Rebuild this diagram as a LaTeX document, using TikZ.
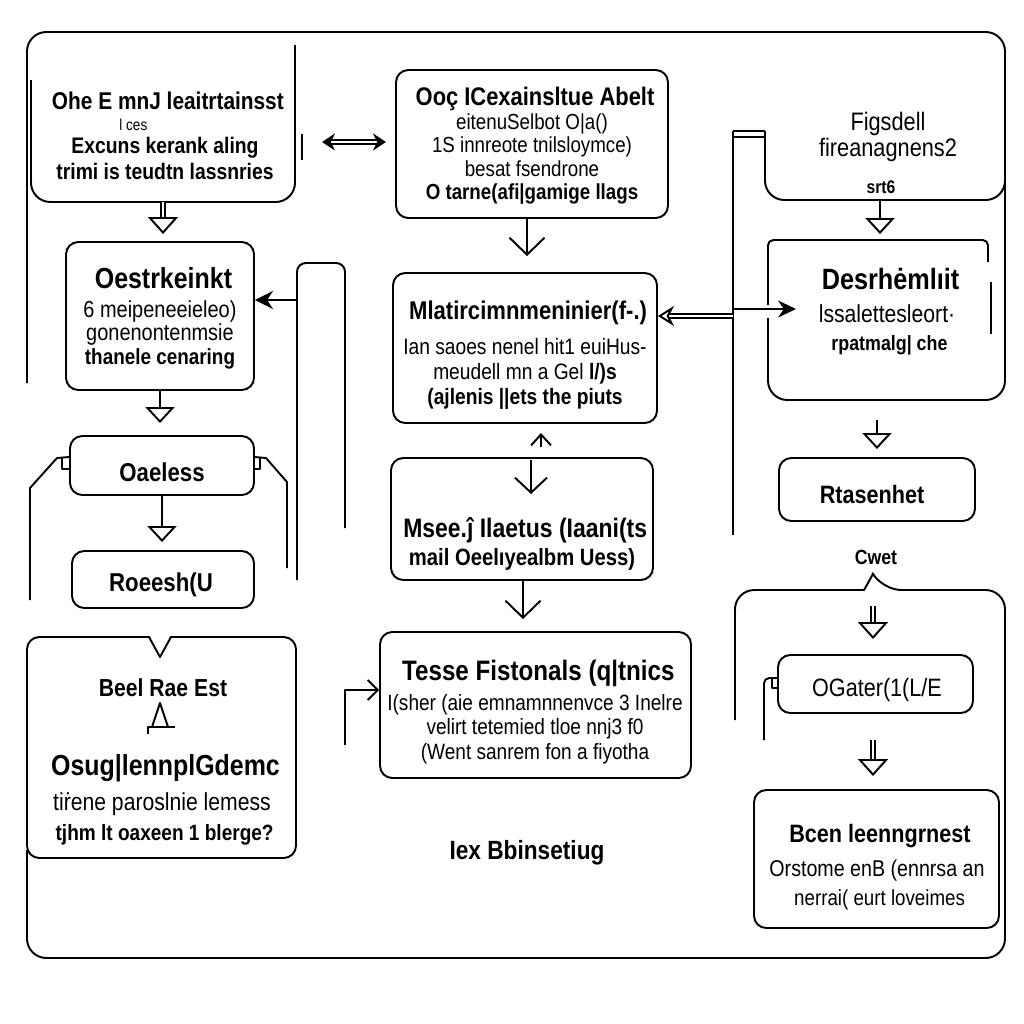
\documentclass[tikz,border=0pt]{standalone}
\usepackage{fontspec}
\newfontfamily\diagfont{Liberation Sans}[FakeStretch=0.86]
\usetikzlibrary{shapes,arrows.meta,positioning,calc}
\newcommand{\fsz}[2]{\fontsize{#1}{#2}\selectfont}

\begin{document}
\begin{tikzpicture}[x=0.2mm,y=-0.2mm,line width=1.1pt,line join=round,
  box/.style={draw,rounded corners=7pt,inner sep=0pt},
  txt/.style={align=center,inner sep=0pt},
  vee/.style={-{Straight Barb[length=3.4mm,width=7mm]}},
  hollow/.style={-{Triangle[open,length=3.2mm,width=5.8mm]}},
  dhollow/.style={double,double distance=1.3pt,-{Triangle[open,length=3.4mm,width=6mm]}},
  stealthy/.style={-{Stealth[length=3.6mm,width=3.6mm]}}]
\useasboundingbox[fill=white] (0,0) rectangle (1024,1024);

% frame, upper part
\draw[rounded corners=11pt] (27,383) -- (27,32) -- (1005,32) -- (1005,400) -- (768,400) -- (768,318);
\draw[rounded corners=3pt] (768,305) -- (768,240) -- (988,240) -- (988,262);
\draw[line width=1.6pt] (991,282) -- (991,334);
\draw[rounded corners=11pt] (765,131) -- (765,200) -- (1005,200) -- (1005,180);
\draw (733,131) -- (765,131);
\draw (733,137) -- (765,137);
\draw (733,131) -- (733,535);

% frame, lower part
\draw[rounded corners=11pt] (27,850) -- (27,958) -- (1005,958) -- (1005,590) -- (882,590)
  [sharp corners] -- (873,574) -- (864,590) [rounded corners=11pt] -- (735,590) -- (735,720);

% top left
\draw[rounded corners=11pt] (295,45) -- (295,202) -- (31,202) -- (31,80);
\node[txt,font=\diagfont\fsz{12.8}{14.6}] (tltext) at (165,136) {\textbf{\fsz{13.8}{14} Ohe E mnJ leaitrtainsst}\\[-3pt]
  {\fsz{9}{9}\hspace*{-4em}l ces}\\[-1pt]
  \textbf{Excuns kerank aling}\\ \textbf{trimi is teudtn lassnries}};
\draw (302,134) -- (302,160);
\coordinate (dl) at (322,142);
\coordinate (dr) at (386,142);
\draw[double,double distance=1.5pt,{Stealth[length=2.6mm,width=3.4mm]}-{Stealth[length=2.6mm,width=3.4mm]}] (dl) -- (dr);

% middle column
\node[box,minimum width=54.4mm,minimum height=29.6mm] (tmbox) at (532,144) {};
\node[txt,font=\diagfont\fsz{12.4}{13.4}] (tmtext) at (532,146) {\textbf{\fsz{14.5}{14} Ooç ICexainsltue Abelt}\\
  eitenuSelbot O|a()\\ 1S innreote tnilsloymce)\\ besat fsendrone\\
  \textbf{O tarne(afi|gamige llags}};
\node[box,minimum width=52.8mm,minimum height=30mm] (mlbox) at (525,348) {};
\node[txt,font=\diagfont\fsz{12.7}{14.2}] (mltext) at (525,355) {\textbf{\fsz{14.6}{14} Mlatircimnmeninier(f-.)}\\[6pt]
  Ian saoes nenel hit1 euiHus-\\ meudell mn a Gel \textbf{l/)s}\\ \textbf{(ajlenis ||ets the piuts}};
\node[box,minimum width=52.4mm,minimum height=24.4mm] (msbox) at (522,519) {};
\node[txt,font=\diagfont\fsz{13.4}{14.8}] (mstext) at (522,544) {\textbf{\fsz{15.2}{15} Msee.ĵ Ilaetus (Iaani(ts}\\[1pt]
  \textbf{mail Oeelıyealbm Uess)}};
\node[box,minimum width=62.2mm,minimum height=29.2mm] (tsbox) at (535.5,705) {};
\node[txt,font=\diagfont\fsz{12.6}{13.9}] (tstext) at (535,712) {\textbf{\fsz{16}{16} Tesse Fistonals (q|tnics}\\[3pt]
  I(sher (aie emnamnnenvce 3 Inelre\\ velirt tetemied tloe nnj3 f0\\ (Went sanrem fon a fiyotha};
\node[txt,font=\diagfont\fsz{15}{15}] (ibtext) at (527,853) {\textbf{Iex Bbinsetiug}};

\draw[vee,shorten >=3.2mm] (tmbox.south -| 527,0) -- (mlbox.north -| 527,0);
\coordinate (msup) at (541,447);
\draw[-{Straight Barb[length=2.2mm,width=4mm]}] (msup) -- ++(0,-14);
\coordinate (msin) at (531,460);
\draw[-{Straight Barb[length=3mm,width=6.4mm]}] (msin) -- (531,494);
\draw[vee,shorten >=2.4mm] (msbox.south -| 523,0) -- (tsbox.north -| 523,0);
\coordinate (tsin) at (345,745);
\draw[-{Straight Barb[length=2mm,width=4mm]}] (tsin) -- (345,690) -- (tsin |- 0,690 -| tsbox.west);

% left column
\node[box,minimum width=37.6mm,minimum height=29.6mm] (oebox) at (160,316) {};
\node[txt,font=\diagfont\fsz{13.2}{13.4}] (oetext) at (160,318) {\textbf{\fsz{16.5}{16} Oestrkeinkt}\\[3pt]
  6 meipeneeieleo)\\ gonenontenmsie\\ \textbf{\fsz{12.5}{13.4}thanele cenaring}};
\node[box,minimum width=36.8mm,minimum height=11.8mm] (oabox) at (162,465.5) {};
\node[txt,font=\diagfont\fsz{14.7}{15}] (oatext) at (162,472) {\textbf{Oaeless}};
\node[box,minimum width=36.4mm,minimum height=11.4mm] (robox) at (163,579.5) {};
\node[txt,font=\diagfont\fsz{14.7}{15}] (rotext) at (161,585) {\textbf{Roeesh(U}};

\coordinate (tlout) at (163,202);
\draw[dhollow,shorten >=1.4mm] (tlout) -- (tlout |- oebox.north);
\draw[hollow,shorten >=0mm] (oebox.south -| 160,0) -- (160,423);
\draw[hollow,shorten >=1.6mm] (oabox.south -| 162,0) -- (robox.north -| 162,0);

\draw[rounded corners=5pt] (297,580) -- (297,263) -- (345,263) -- (345,528);
\coordinate (lb) at (297,300);
\draw[stealthy] (lb) -- (lb -| oebox.east);

\coordinate (oal) at ($(oabox.north west)+(0,22)$);
\coordinate (oar) at ($(oabox.north east)+(0,22)$);
\draw (30,600) -- (30,488) -- (57,458) -- (oal);
\draw ($(oal)+(-7,0)$) -- ($(oal)+(-7,12)$) -- ($(oal)+(0,12)$);
\draw (oar) -- (266,458) -- (287,482) -- (287,568);
\draw ($(oar)+(5,0)$) -- ($(oar)+(5,12)$) -- ($(oar)+(0,12)$);

\node[box,minimum width=53.8mm,minimum height=44.2mm] (bebox) at (161.5,747.5) {};
\fill[white] (149,634) -- (171,634) -- (160,656) -- cycle;
\draw (149,637) -- (160,657) -- (171,637);
\node[txt,font=\diagfont\fsz{14}{14}] (betop) at (163,688) {\textbf{Beel Rae Est}};
\draw (152,727) -- (160,703) -- (168,727);
\draw (148,734) -- (148,727) -- (175,727);
\node[txt,font=\diagfont\fsz{14}{17}] (betext) at (162,800) {\textbf{\fsz{16.5}{16} Osug|lennplGdemc}\\[3pt]
  tiṙene paroslnie lemess\\ \textbf{\fsz{12.6}{17} tjhm lt oaxeen 1 blerge?}};

% right column
\node[txt,font=\diagfont\fsz{14.4}{14.4}] (fgtext) at (888,137) {Figsdell\\ fireanagnens2};
\node[txt,font=\diagfont\fsz{10.4}{10}] (srtext) at (881,187) {\textbf{srt6}};
\node[minimum width=47mm,minimum height=28.8mm] (debox) at (886.5,312) {};
\node[txt,font=\diagfont\fsz{14}{15.9}] (detext) at (887,312) {\textbf{\fsz{16.7}{16} Desrhėmlıit}\\[3pt]
  lssaletteslеort·\\ \textbf{\fsz{11.8}{15.9} rpatmalg| che}};
\node[box,minimum width=39.2mm,minimum height=12.6mm] (rsbox) at (877,489.5) {};
\node[txt,font=\diagfont\fsz{14.3}{14}] (rstext) at (872,495) {\textbf{Rtasenhet}};
\node[txt,font=\diagfont\fsz{11.7}{12}] (cwtext) at (876,557) {\textbf{Cwet}};
\node[box,minimum width=39mm,minimum height=11.6mm] (ogbox) at (875.5,684) {};
\node[txt,font=\diagfont\fsz{14.3}{14}] (ogtext) at (877,690) {OGater(1(L/E};
\node[box,minimum width=49mm,minimum height=27.6mm] (bcbox) at (876.5,859) {};
\node[txt,font=\diagfont\fsz{13}{16.5}] (bctext) at (877,867) {\textbf{\fsz{14.3}{14} Bcen leenngrnest}\\[3pt]
  Orstome enB (ennrsa an\\ \fsz{12.4}{16.5} nerrai( eurt loveimes};

\coordinate (fgout) at (880,200);
\draw[hollow,shorten >=1mm] (fgout) -- (fgout |- debox.north);
\coordinate (mlin) at (733,316);
\draw[double,double distance=1.5pt,-{Stealth[open,length=3.2mm,width=4mm]}] (mlin) -- (mlin -| mlbox.east);
\coordinate (dein) at (733,309);
\coordinate (detip) at (796,309);
\draw[-{Stealth[length=3.6mm,width=3.4mm]}] (dein) -- (detip);
\coordinate (deout) at (877,420);
\draw[hollow,shorten >=1.6mm] (deout) -- (deout |- rsbox.north);
\coordinate (ogin) at (873,606);
\draw[dhollow,shorten >=3mm] (ogin) -- (ogin |- ogbox.north);
\coordinate (ogout) at (873,740);
\draw[dhollow,shorten >=2.6mm] (ogout) -- (ogout |- bcbox.north);
\draw[rounded corners=3pt] ($(ogbox.west)+(0,-6)$) -- (764,678) -- (764,740);
\draw ($(ogbox.west)+(0,-6)$) -- ($(ogbox.west)+(-5,-6)$) -- ($(ogbox.west)+(-5,4)$) -- ($(ogbox.west)+(0,4)$);
\end{tikzpicture}
\end{document}
